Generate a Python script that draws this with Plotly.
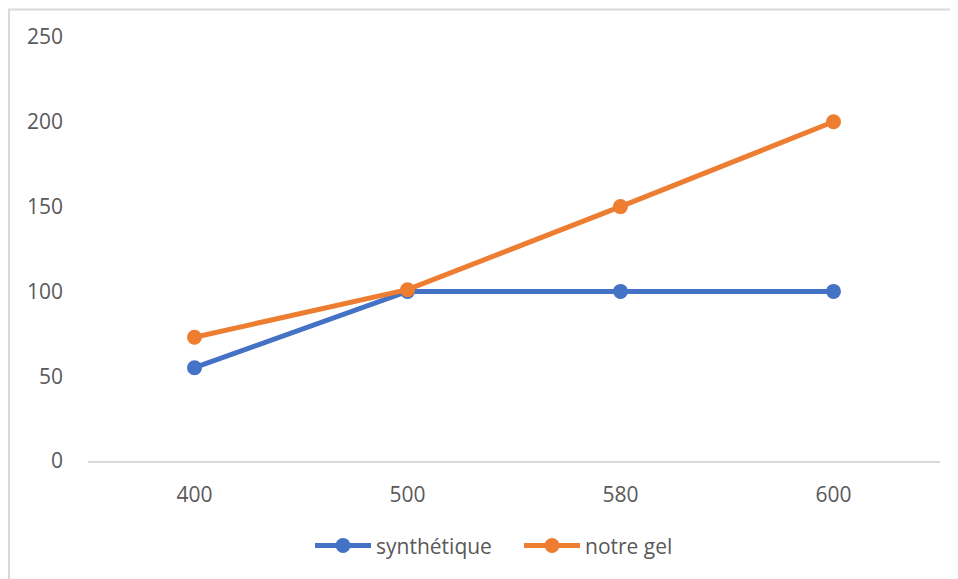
import plotly.graph_objects as go

categories = ["400", "500", "580", "600"]
synthetique = [55, 100, 100, 100]
notre_gel = [73, 101, 150, 200]
y_ticks = [0, 50, 100, 150, 200, 250]

FONT = "Open Sans, Liberation Sans, sans-serif"
GREY = "#595959"

fig = go.Figure()
fig.add_trace(go.Scatter(x=categories, y=synthetique, name="synthétique",
                         mode="lines+markers",
                         line=dict(color="#4472C4", width=5),
                         marker=dict(color="#4472C4", size=15)))
fig.add_trace(go.Scatter(x=categories, y=notre_gel, name="notre gel",
                         mode="lines+markers",
                         line=dict(color="#ED7D31", width=5),
                         marker=dict(color="#ED7D31", size=15)))

fig.update_layout(
    width=950, height=571,
    margin=dict(l=80, r=18, t=29, b=118),
    paper_bgcolor="white", plot_bgcolor="white",
    font=dict(family=FONT, size=21, color=GREY),
    showlegend=True,
    legend=dict(orientation="h", x=0.2606, xanchor="left", y=-0.2, yanchor="middle",
                font=dict(size=21, color=GREY), itemwidth=56,
                entrywidth=138, entrywidthmode="pixels", tracegroupgap=0),
    xaxis=dict(type="category", range=[-0.5, 3.5], showgrid=False,
               showline=True, linecolor="#d9d9d9", linewidth=1.5,
               ticks="", ticklabelstandoff=14, zeroline=False),
    yaxis=dict(range=[0, 250], tickvals=y_ticks, showgrid=False, showline=False,
               ticks="", ticklabelstandoff=24, zeroline=False),
    shapes=[dict(type="rect", xref="paper", yref="paper",
                 x0=-0.0927, x1=1.2, y0=-0.5, y1=1.065,
                 line=dict(color="#d9d9d9", width=2), layer="below")],
)

fig.write_html("out.html")
